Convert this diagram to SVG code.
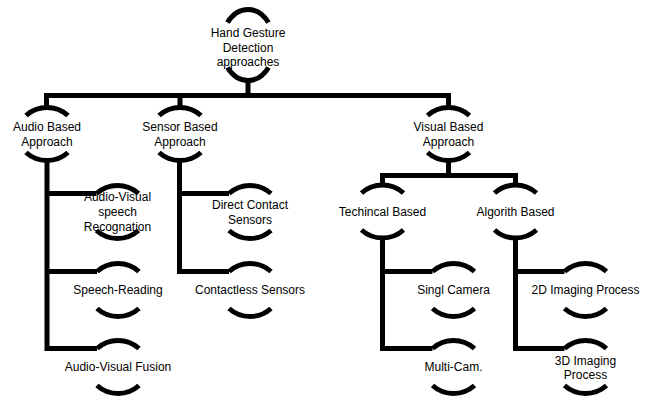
<svg xmlns="http://www.w3.org/2000/svg" width="646" height="400" viewBox="0 0 646 400">
<style>
.arc{fill:none;stroke:#000;stroke-width:5;stroke-linecap:butt}
.con{fill:none;stroke:#000;stroke-width:5;stroke-linejoin:miter;stroke-linecap:butt}
text{font-family:"Liberation Sans",Arial,sans-serif;font-size:12px;fill:#000;text-anchor:middle}
</style>
<rect width="646" height="400" fill="#fff"/>
<g id="connectors">
<path class="con" d="M248,81 V95.5 M46.5,107.5 V95.5 H448.5 V107.5 M180,95.5 V107.5"/>
<path class="con" d="M47,160 V348.5 H97 M47,193.5 H96.5 M47,271.5 H97"/>
<path class="con" d="M179.5,160 V271.5 H229 M179.5,193.5 H229"/>
<path class="con" d="M448.5,160 V175.5 M382.5,185 V175.5 H515.5 V185"/>
<path class="con" d="M382.5,237.5 V348.5 H432.5 M382.5,271.5 H432.5"/>
<path class="con" d="M515.5,237.5 V348.5 H564.5 M515.5,271.5 H564.5"/>
</g>
<g id="root">
<path class="arc" d="M227.5,22.5 A26.5,35.5 0 0 1 268.5,22.5"/>
<path class="arc" d="M227.5,67.5 A26.5,35.5 0 0 0 268.5,67.5"/>
<text x="248" y="37">Hand Gesture</text>
<text x="248" y="51.5">Detection</text>
<text x="248" y="66">approaches</text>
</g>
<g id="audio">
<path class="arc" d="M26,115.5 A31.5,31.5 0 0 1 68,115.5"/>
<path class="arc" d="M26,152.5 A31.5,31.5 0 0 0 68,152.5"/>
<text x="47" y="130.5">Audio Based</text>
<text x="47" y="145.5">Approach</text>
</g>
<g id="sensor">
<path class="arc" d="M159,115.5 A31.5,31.5 0 0 1 201,115.5"/>
<path class="arc" d="M159,152.5 A31.5,31.5 0 0 0 201,152.5"/>
<text x="180" y="130.5">Sensor Based</text>
<text x="180" y="145.5">Approach</text>
</g>
<g id="visual">
<path class="arc" d="M427.5,115.5 A31.5,31.5 0 0 1 469.5,115.5"/>
<path class="arc" d="M427.5,152.5 A31.5,31.5 0 0 0 469.5,152.5"/>
<text x="448.5" y="130.5">Visual Based</text>
<text x="448.5" y="145.5">Approach</text>
</g>
<g id="avsr">
<path class="arc" d="M96.5,193.5 A31.5,31.5 0 0 1 138.5,193.5"/>
<path class="arc" d="M96.5,230.5 A31.5,31.5 0 0 0 138.5,230.5"/>
<text x="117.5" y="201">Audio-Visual</text>
<text x="117.5" y="216">speech</text>
<text x="117.5" y="231">Recognation</text>
</g>
<g id="speechreading">
<path class="arc" d="M97,271.5 A31.5,31.5 0 0 1 139,271.5"/>
<path class="arc" d="M97,308.5 A31.5,31.5 0 0 0 139,308.5"/>
<text x="118" y="294">Speech-Reading</text>
</g>
<g id="avfusion">
<path class="arc" d="M97,348.5 A31.5,31.5 0 0 1 139,348.5"/>
<path class="arc" d="M97,385.5 A31.5,31.5 0 0 0 139,385.5"/>
<text x="118" y="371">Audio-Visual Fusion</text>
</g>
<g id="directcontact">
<path class="arc" d="M229,193.5 A31.5,31.5 0 0 1 271,193.5"/>
<path class="arc" d="M229,230.5 A31.5,31.5 0 0 0 271,230.5"/>
<text x="250" y="208.5">Direct Contact</text>
<text x="250" y="223.5">Sensors</text>
</g>
<g id="contactless">
<path class="arc" d="M229,271.5 A31.5,31.5 0 0 1 271,271.5"/>
<path class="arc" d="M229,308.5 A31.5,31.5 0 0 0 271,308.5"/>
<text x="250" y="294">Contactless Sensors</text>
</g>
<g id="technical">
<path class="arc" d="M361.5,193 A31.5,31.5 0 0 1 403.5,193"/>
<path class="arc" d="M361.5,230 A31.5,31.5 0 0 0 403.5,230"/>
<text x="382.5" y="215.5">Techincal Based</text>
</g>
<g id="algorithm">
<path class="arc" d="M494.5,193 A31.5,31.5 0 0 1 536.5,193"/>
<path class="arc" d="M494.5,230 A31.5,31.5 0 0 0 536.5,230"/>
<text x="515.5" y="215.5">Algorith Based</text>
</g>
<g id="singlecamera">
<path class="arc" d="M432.5,271.5 A31.5,31.5 0 0 1 474.5,271.5"/>
<path class="arc" d="M432.5,308.5 A31.5,31.5 0 0 0 474.5,308.5"/>
<text x="453.5" y="294">Singl Camera</text>
</g>
<g id="multicam">
<path class="arc" d="M432.5,348.5 A31.5,31.5 0 0 1 474.5,348.5"/>
<path class="arc" d="M432.5,385.5 A31.5,31.5 0 0 0 474.5,385.5"/>
<text x="453.5" y="371">Multi-Cam.</text>
</g>
<g id="imaging2d">
<path class="arc" d="M564.5,271.5 A31.5,31.5 0 0 1 606.5,271.5"/>
<path class="arc" d="M564.5,308.5 A31.5,31.5 0 0 0 606.5,308.5"/>
<text x="585.5" y="294">2D Imaging Process</text>
</g>
<g id="imaging3d">
<path class="arc" d="M564.5,348.5 A31.5,31.5 0 0 1 606.5,348.5"/>
<path class="arc" d="M564.5,385.5 A31.5,31.5 0 0 0 606.5,385.5"/>
<text x="585.5" y="364.5">3D Imaging</text>
<text x="585.5" y="378.5">Process</text>
</g>
</svg>
